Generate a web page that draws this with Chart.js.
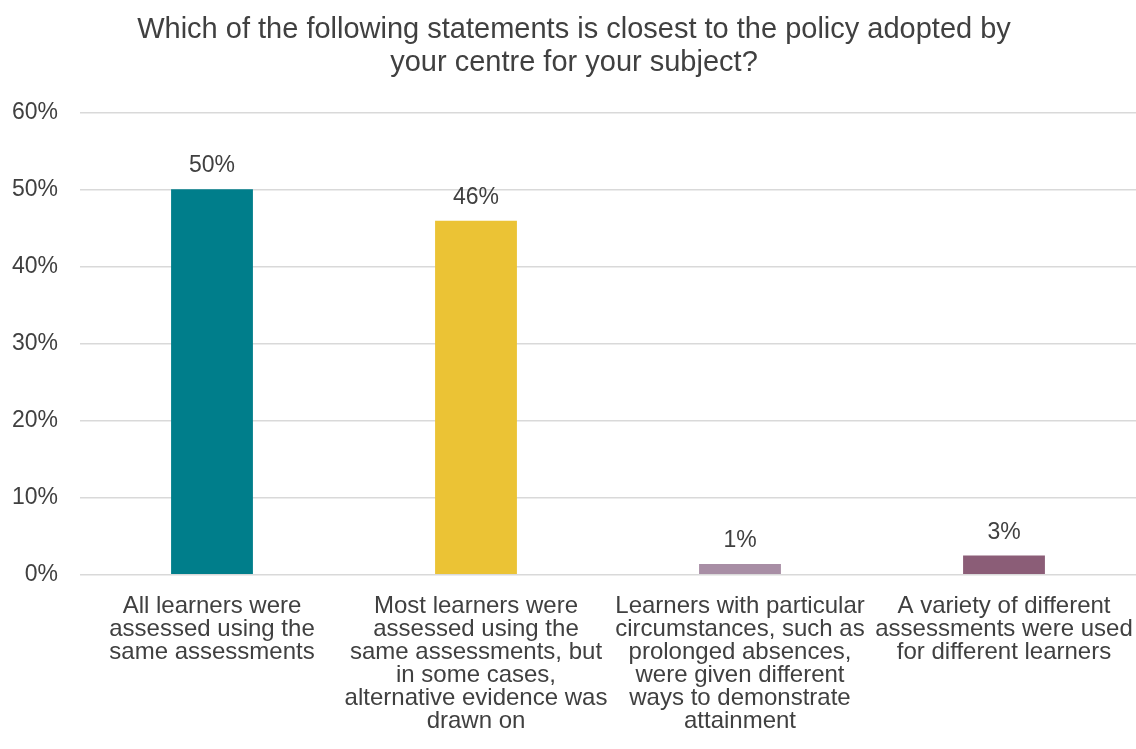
<!DOCTYPE html>
<html>
<head>
<meta charset="utf-8">
<script src="https://cdn.jsdelivr.net/npm/chart.js@4"></script>
<style>
  html, body { margin: 0; padding: 0; background: #fff; }
  #wrap { width: 1136px; height: 749px; }
</style>
</head>
<body>
<div id="wrap"><canvas id="chart"></canvas></div>
<script>
// categories (wrapped as in the original)
var categories = [
    ['All learners were', 'assessed using the', 'same assessments'],
    ['Most learners were', 'assessed using the', 'same assessments, but', 'in some cases,', 'alternative evidence was', 'drawn on'],
    ['Learners with particular', 'circumstances, such as', 'prolonged absences,', 'were given different', 'ways to demonstrate', 'attainment'],
    ['A variety of different', 'assessments were used', 'for different learners']
];
// share of responses, %
var values = [50.1, 46, 1.4, 2.5];
var barColors = ['#007E8B', '#EBC335', '#A88EA5', '#8B5D77'];
var yTicks = [0, 10, 20, 30, 40, 50, 60];

var textColor = '#404040';
Chart.defaults.font.family = '"Liberation Sans", Arial, sans-serif';
Chart.defaults.color = textColor;

// value labels above each bar
var valueLabels = {
    id: 'valueLabels',
    afterDatasetsDraw: function(chart) {
        var c = chart.ctx;
        var meta = chart.getDatasetMeta(0);
        c.save();
        c.font = '23px "Liberation Sans", Arial, sans-serif';
        c.fillStyle = textColor;
        c.textAlign = 'center';
        c.textBaseline = 'alphabetic';
        meta.data.forEach(function(bar, i) {
            c.fillText(Math.round(values[i]) + '%', bar.x, bar.y - 17);
        });
        c.restore();
    }
};

var ctx = document.getElementById('chart').getContext('2d');
var chart = new Chart(ctx, {
    type: 'bar',
    data: {
        labels: categories,
        datasets: [{
            data: values,
            backgroundColor: barColors,
            categoryPercentage: 1,
            barPercentage: 0.31
        }]
    },
    options: {
        responsive: true,
        maintainAspectRatio: false,
        animation: false,
        layout: { autoPadding: false, padding: { left: 12, right: 0, top: 0, bottom: 4 } },
        plugins: {
            legend: { display: false },
            tooltip: { enabled: false },
            title: {
                display: true,
                text: ['Which of the following statements is closest to the policy adopted by',
                       'your centre for your subject?'],
                font: { size: 29, weight: 'normal', lineHeight: 1.14 },
                color: textColor,
                padding: { top: 13, bottom: 34 }
            }
        },
        scales: {
            x: {
                grid: { display: false },
                border: { display: false },
                afterFit: function(axis) {
                    axis.paddingLeft = 0;
                    axis.paddingRight = 0;
                },
                ticks: {
                    autoSkip: false,
                    maxRotation: 0,
                    minRotation: 0,
                    padding: 12,
                    font: { size: 24, lineHeight: 0.96 },
                    color: textColor
                }
            },
            y: {
                min: 0,
                max: 60,
                afterBuildTicks: function(axis) {
                    axis.ticks = yTicks.map(function(v) { return { value: v }; });
                },
                afterFit: function(axis) {
                    axis.width = 68;
                },
                grid: { color: '#D9D9D9', lineWidth: 1.5, drawTicks: false },
                border: { display: false },
                ticks: {
                    padding: 22,
                    font: { size: 23 },
                    color: textColor,
                    callback: function(v) { return v + '%'; }
                }
            }
        }
    },
    plugins: [valueLabels]
});
</script>
</body>
</html>
